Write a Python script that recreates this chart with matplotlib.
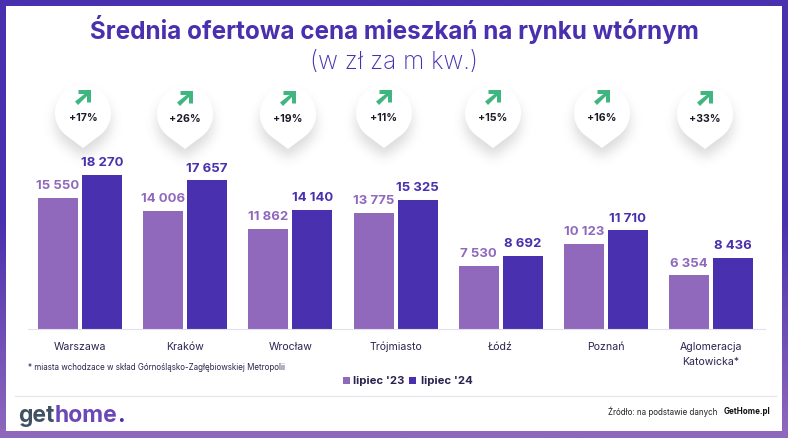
import numpy as np
import matplotlib
matplotlib.use("Agg")
import matplotlib.pyplot as plt
from matplotlib.patches import Polygon, Rectangle
from matplotlib.path import Path
from matplotlib.colors import LinearSegmentedColormap

# data
cities = ["Warszawa", "Kraków", "Wrocław", "Trójmiasto", "Łódź", "Poznań", "Aglomeracja\nKatowicka*"]
lipiec_23 = [15550, 14006, 11862, 13775, 7530, 10123, 6354]
lipiec_24 = [18270, 17657, 14140, 15325, 8692, 11710, 8436]
labels_23 = ["15 550", "14 006", "11 862", "13 775", "7 530", "10 123", "6 354"]
labels_24 = ["18 270", "17 657", "14 140", "15 325", "8 692", "11 710", "8 436"]
changes = ["+17%", "+26%", "+19%", "+11%", "+15%", "+16%", "+33%"]

# pin centres in pixels, they do not follow the bar groups exactly
pin_x = [83, 185, 288, 384, 493, 602, 705]
pin_y = [113, 114, 114, 113, 113, 113, 114]

W, H = 788, 438
LIGHT = "#9069bd"
DARK = "#4930ae"
TEXT = "#2c2350"
FONT = "Inter"

plt.rcParams["font.family"] = [FONT, "DejaVu Sans"]

fig = plt.figure(figsize=(W / 100, H / 100), dpi=100)

# pixel canvas for frame, title, pins and footer
bg = fig.add_axes([0, 0, 1, 1], zorder=0)
cmap = LinearSegmentedColormap.from_list("frame", [DARK, DARK, LIGHT])
grad = np.linspace(0, 1, 256).reshape(-1, 1)
bg.imshow(grad, extent=[0, W, H, 0], aspect="auto", cmap=cmap, zorder=0)
bg.set_xlim(0, W)
bg.set_ylim(H, 0)
bg.axis("off")
bg.add_patch(Rectangle((6.5, 6), 775.5, 425, fc="white", ec="none", zorder=1))


def pin_path(cx, cy, r=28, tip=35):
    # round head, sides run straight into the tip
    a = np.degrees(np.arccos(r / tip))
    t = np.radians(np.linspace(-90 + a, 270 - a, 80))
    xs = cx + r * np.cos(t)
    ys = cy - r * np.sin(t)
    return np.array(list(zip(xs, ys)) + [(cx, cy + tip)])


# blurred shadow under all pins
gx, gy = np.meshgrid(np.arange(W) + 0.5, np.arange(H) + 0.5)
grid = np.column_stack([gx.ravel(), gy.ravel()])
mask = np.zeros((H, W))
for cx, cy in zip(pin_x, pin_y):
    inside = Path(pin_path(cx, cy + 9)).contains_points(grid)
    mask = np.maximum(mask, inside.reshape(H, W).astype(float))
kernel = np.exp(-np.arange(-18, 19) ** 2 / (2 * 6.0 ** 2))
kernel = kernel / kernel.sum()
mask = np.apply_along_axis(lambda r: np.convolve(r, kernel, mode="same"), 0, mask)
mask = np.apply_along_axis(lambda r: np.convolve(r, kernel, mode="same"), 1, mask)
shadow = np.zeros((H, W, 4))
shadow[..., :3] = 0.35
shadow[..., 3] = mask * 0.22
bg.imshow(shadow, extent=[0, W, H, 0], aspect="auto", zorder=2)
bg.set_xlim(0, W)
bg.set_ylim(H, 0)

# arrow outline relative to the percent text
arrow_shape = np.array([(8, -28), (-4.5, -28), (-4.5, -24), (1.5, -24), (-8, -16.5), (-5, -13), (4, -22), (4, -15.5), (8, -15.5)])
for cx, cy, ch in zip(pin_x, pin_y, changes):
    bg.add_patch(Polygon(pin_path(cx, cy), fc="white", ec="none", zorder=3))
    bg.add_patch(Polygon(arrow_shape + [cx, cy + 5], fc="#3fb67f", ec="none", zorder=4))
    bg.text(cx, cy + 5, ch, ha="center", va="center", fontsize=7.6, fontweight="bold",
            color="#1c1a26", zorder=4)

bg.text(394, 29, "Średnia ofertowa cena mieszkań na rynku wtórnym", ha="center", va="center",
        fontsize=17.45, fontweight="bold", color=DARK, zorder=4)
bg.text(394, 62, "(w zł za m kw.)", ha="center", va="center", fontsize=17.5,
        fontweight="light", color=DARK, zorder=4)

bg.text(28, 367, "* miasta wchodzace w skład Górnośląsko-Zagłębiowskiej Metropolii", ha="left", va="center",
        fontsize=5.75, color=TEXT, zorder=4)

# legend
bg.add_patch(Rectangle((343, 377), 7, 7, fc=LIGHT, ec="none", zorder=4))
bg.text(353, 381, "lipiec '23", ha="left", va="center", fontsize=8.2, fontweight="bold", color=TEXT, zorder=4)
bg.add_patch(Rectangle((409, 377), 7, 7, fc=DARK, ec="none", zorder=4))
bg.text(421, 381, "lipiec '24", ha="left", va="center", fontsize=8.2, fontweight="bold", color=TEXT, zorder=4)

# footer
bg.plot([15, 776], [396, 396], color="#e6e6ea", lw=0.9, zorder=4)

# logo in three pieces, each placed right after the one before
logo_parts = ["get", "home", "."]
logo_colors = ["#3f5163", "#6a48b6", DARK]
renderer = fig.canvas.get_renderer()
logo_x = 18
for part, col in zip(logo_parts, logo_colors):
    t = bg.text(logo_x, 422, part, ha="left", va="baseline", fontsize=16.5, fontweight="bold", color=col, zorder=4)
    logo_x += t.get_window_extent(renderer).width

bg.text(608, 412, "Źródło: na podstawie danych", ha="left", va="center", fontsize=5.77, color="#222222", zorder=4)
bg.text(770, 412, "GetHome.pl", ha="right", va="center", fontsize=5.75, fontweight="bold", color="#111111", zorder=4)

# bars in their own axes, y range set so that 18270 reaches the pixel height seen
left, right, top, base = 28, 765, 150, 329
pitch = (711 - 80) / 6
ax = fig.add_axes([left / W, 1 - base / H, (right - left) / W, (base - top) / H], zorder=2)
ax.patch.set_alpha(0)
ax.set_xlim(-(80 - left) / pitch, 6 + (right - 711) / pitch)
ax.set_ylim(0, (base - top) / 154 * 18270)

x = np.arange(len(cities))
bar_w = 40 / pitch
gap = 2 / pitch
ax.bar(x - bar_w / 2 - gap, lipiec_23, bar_w, color=LIGHT)
ax.bar(x + bar_w / 2 + gap, lipiec_24, bar_w, color=DARK)

for i in x:
    ax.annotate(labels_23[i], (i - bar_w / 2 - gap, lipiec_23[i]), xytext=(0, 4), textcoords="offset points",
                ha="center", va="bottom", fontsize=9.5, fontweight="bold", color=LIGHT)
    ax.annotate(labels_24[i], (i + bar_w / 2 + gap, lipiec_24[i]), xytext=(0, 4), textcoords="offset points",
                ha="center", va="bottom", fontsize=9.5, fontweight="bold", color=DARK)

for s in ["top", "left", "right"]:
    ax.spines[s].set_visible(False)
ax.spines["bottom"].set_color("#e2e0ea")
ax.spines["bottom"].set_linewidth(0.8)
ax.set_yticks([])
ax.set_xticks(x)
ax.set_xticklabels(cities, fontsize=7.6, color=TEXT, linespacing=1.6)
ax.tick_params(axis="x", length=0, pad=9.2)

fig.savefig("out.png", dpi=100)
